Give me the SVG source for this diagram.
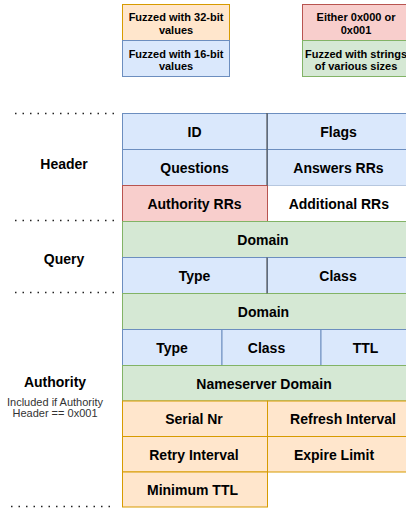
<svg xmlns="http://www.w3.org/2000/svg" width="406" height="510" viewBox="0 0 406 510">
  <style>
    text { font-family: "Liberation Sans", Arial, sans-serif; fill: #000; text-anchor: middle; }
    .lbl { font-size: 14px; font-weight: bold; }
    .leg { font-size: 11px; font-weight: bold; }
    .note { font-size: 11px; fill: #333; }
    .blue { fill: #dae8fc; stroke: #6c8ebf; stroke-width: 1; }
    .orange { fill: #ffe6cc; stroke: #d79b00; stroke-width: 1; }
    .red { fill: #f8cecc; stroke: #b85450; stroke-width: 1; }
    .green { fill: #d5e8d4; stroke: #82b366; stroke-width: 1; }
    .white { fill: #ffffff; stroke: none; }
    .sep { stroke: #222; stroke-width: 1.6; stroke-dasharray: 1.5 6; fill: none; }
    .div { stroke: #555; stroke-width: 1.2; }
  </style>

  <!-- Legend -->
  <g id="legend-32bit">
    <rect class="orange" x="122.5" y="4.5" width="107" height="36"/>
    <text class="leg" x="176" y="21">Fuzzed with 32-bit</text>
    <text class="leg" x="176" y="33.5">values</text>
  </g>
  <g id="legend-16bit">
    <rect class="blue" x="122.5" y="40.5" width="107" height="36"/>
    <text class="leg" x="176" y="57.5">Fuzzed with 16-bit</text>
    <text class="leg" x="176" y="70">values</text>
  </g>
  <g id="legend-flag">
    <rect class="red" x="302.5" y="4.5" width="107" height="36"/>
    <text class="leg" x="356" y="21">Either 0x000 or</text>
    <text class="leg" x="356" y="33.5">0x001</text>
  </g>
  <g id="legend-strings">
    <rect class="green" x="302.5" y="40.5" width="107" height="36"/>
    <text class="leg" x="356" y="57.5">Fuzzed with strings</text>
    <text class="leg" x="356" y="70">of various sizes</text>
  </g>

  <!-- Section labels -->
  <g id="label-header"><text class="lbl" x="64" y="168.5">Header</text></g>
  <g id="label-query"><text class="lbl" x="64" y="263.5">Query</text></g>
  <g id="label-authority">
    <text class="lbl" x="55" y="386.7">Authority</text>
    <text class="note" x="55" y="405.5">Included if Authority</text>
    <text class="note" x="55" y="417">Header == 0x001</text>
  </g>

  <!-- Header section -->
  <g id="hdr-id">
    <rect class="blue" x="122.5" y="113.5" width="145" height="36"/>
    <text class="lbl" x="194.5" y="137">ID</text>
  </g>
  <g id="hdr-flags">
    <rect class="blue" x="267.5" y="113.5" width="145" height="36"/>
    <text class="lbl" x="338.5" y="137">Flags</text>
  </g>
  <g id="hdr-questions">
    <rect class="blue" x="122.5" y="149.5" width="145" height="36"/>
    <text class="lbl" x="194.5" y="172.5">Questions</text>
  </g>
  <g id="hdr-answers">
    <rect class="blue" x="267.5" y="149.5" width="145" height="36"/>
    <text class="lbl" x="338.5" y="172.5">Answers RRs</text>
  </g>
  <g id="hdr-additional">
    <rect class="white" x="267.5" y="185.5" width="145" height="36"/>
    <text class="lbl" x="338.8" y="208.5">Additional RRs</text>
  </g>
  <g id="hdr-authority">
    <rect class="red" x="122.5" y="185.5" width="145" height="36"/>
    <text class="lbl" x="194.5" y="208.5">Authority RRs</text>
  </g>

  <!-- Query section -->
  <g id="qry-domain">
    <rect class="green" x="122.5" y="221.5" width="290" height="36"/>
    <text class="lbl" x="263" y="244.5">Domain</text>
  </g>
  <g id="qry-type">
    <rect class="blue" x="122.5" y="257.5" width="145" height="36"/>
    <text class="lbl" x="194.5" y="280.5">Type</text>
  </g>
  <g id="qry-class">
    <rect class="blue" x="267.5" y="257.5" width="145" height="36"/>
    <text class="lbl" x="338" y="280.5">Class</text>
  </g>

  <!-- Authority section -->
  <g id="auth-domain">
    <rect class="green" x="122.5" y="293.5" width="290" height="36"/>
    <text class="lbl" x="263.5" y="316.5">Domain</text>
  </g>
  <g id="auth-type">
    <rect class="blue" x="122.5" y="329.5" width="99.5" height="36"/>
    <text class="lbl" x="172" y="352.5">Type</text>
  </g>
  <g id="auth-class">
    <rect class="blue" x="222" y="329.5" width="99" height="36"/>
    <text class="lbl" x="266.5" y="352.5">Class</text>
  </g>
  <g id="auth-ttl">
    <rect class="blue" x="321" y="329.5" width="91.5" height="36"/>
    <text class="lbl" x="365.5" y="352.5">TTL</text>
  </g>
  <g id="auth-nameserver">
    <rect class="green" x="122.5" y="365.5" width="290" height="35.5"/>
    <text class="lbl" x="264" y="388.5">Nameserver Domain</text>
  </g>
  <g id="auth-serial">
    <rect class="orange" x="122.5" y="401" width="145" height="35.5"/>
    <text class="lbl" x="194" y="424">Serial Nr</text>
  </g>
  <g id="auth-refresh">
    <rect class="orange" x="267.5" y="401" width="145" height="35.5"/>
    <text class="lbl" x="343" y="424">Refresh Interval</text>
  </g>
  <g id="auth-retry">
    <rect class="orange" x="122.5" y="436.5" width="145" height="35.5"/>
    <text class="lbl" x="194" y="459.5">Retry Interval</text>
  </g>
  <g id="auth-expire">
    <rect class="orange" x="267.5" y="436.5" width="145" height="35.5"/>
    <text class="lbl" x="334" y="459.5">Expire Limit</text>
  </g>
  <g id="auth-minimum">
    <rect class="orange" x="122.5" y="472" width="145" height="35"/>
    <text class="lbl" x="192.5" y="495">Minimum TTL</text>
  </g>

  <!-- Section separators and column dividers -->
  <g id="connectors">
    <line class="sep" x1="15" y1="113.5" x2="118" y2="113.5"/>
    <line class="sep" x1="15" y1="220.5" x2="118" y2="220.5"/>
    <line class="sep" x1="15" y1="292.5" x2="118" y2="292.5"/>
    <line class="sep" x1="11" y1="506.5" x2="113" y2="506.5"/>
    <line class="div" x1="267" y1="113" x2="267" y2="185.5"/>
    <line class="div" x1="267" y1="257.5" x2="267" y2="293.5"/>
  </g>
</svg>
